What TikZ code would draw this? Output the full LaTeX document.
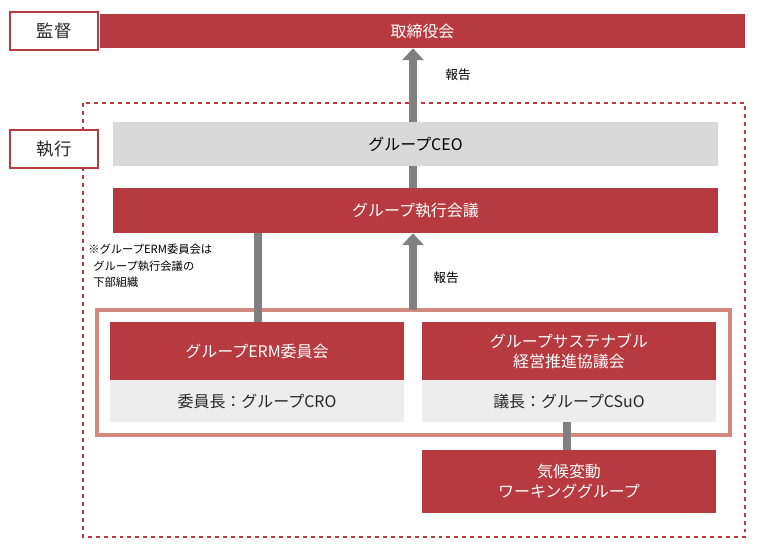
\documentclass[tikz,border=0pt]{standalone}
\usepackage{fontspec}
\setmainfont{Noto Sans CJK JP}
\usetikzlibrary{arrows.meta}
\definecolor{jred}{HTML}{B73A40}
\definecolor{jgray}{HTML}{D9D9D9}
\definecolor{jlight}{HTML}{EDEDED}
\definecolor{jpink}{HTML}{D4897E}
\definecolor{jarrow}{HTML}{808080}
\tikzset{
  redbar/.style={fill=jred, text=white, inner sep=0pt},
  tagbox/.style={draw=jred, thick, fill=white, text=black!85, inner sep=0pt, font=\fontsize{13}{15}\selectfont},
  subbox/.style={fill=jlight, text=black!85, inner sep=0pt},
  uparrow/.style={draw=jarrow, line width=6pt, -{Triangle[length=9pt,width=16pt]}},
  link/.style={draw=jarrow, line width=6pt},
}
\begin{document}
\begin{tikzpicture}[x=0.02645cm, y=-0.02645cm, font=\fontsize{12}{15}\selectfont]
  \useasboundingbox (0,0) rectangle (757,546);

  % upper part
  \node[tagbox, minimum width=88*0.02645cm, minimum height=38*0.02645cm] (sup) at (54,31) {監督};
  \node[redbar, minimum width=645*0.02645cm, minimum height=34*0.02645cm] (board) at (422.5,31) {取締役会};

  \draw[jred, dashed, thick] (83,103) rectangle (745,537);
  \node[tagbox, minimum width=88*0.02645cm, minimum height=38*0.02645cm] (exe) at (54,149) {執行};

  \node[fill=jgray, inner sep=0pt, minimum width=605*0.02645cm, minimum height=44*0.02645cm] (ceo) at (415.5,144) {グループCEO};
  \node[redbar, minimum width=605*0.02645cm, minimum height=45*0.02645cm] (mgmt) at (415.5,210.5) {グループ執行会議};

  \draw[uparrow] (ceo.north -| 413,0) -- (board.south -| 413,0);
  \node[font=\fontsize{9.5}{11}\selectfont] (rep1) at (458,75) {報告};
  \draw[link] (ceo.south -| 413,0) -- (mgmt.north -| 413,0);

  % committees
  \draw[jpink, line width=2.5pt] (97,310) rectangle (730,435);
  \node[redbar, minimum width=294*0.02645cm, minimum height=58*0.02645cm] (erm) at (257,351) {グループERM委員会};
  \node[subbox, minimum width=294*0.02645cm, minimum height=42*0.02645cm] (cro) at (257,401) {委員長：グループCRO};
  \node[redbar, minimum width=294*0.02645cm, minimum height=58*0.02645cm, align=center] (sus) at (569,351) {グループサステナブル\\経営推進協議会};
  \node[subbox, minimum width=294*0.02645cm, minimum height=42*0.02645cm] (csuo) at (569,401) {議長：グループCSuO};
  \node[redbar, minimum width=294*0.02645cm, minimum height=63*0.02645cm, align=center] (wg) at (569,481.5) {気候変動\\ワーキンググループ};

  \draw[link] (erm.north -| 258,0) -- (mgmt.south -| 258,0);
  \draw[uparrow] (413,310) -- (mgmt.south -| 413,0);
  \node[font=\fontsize{9.5}{11}\selectfont] (rep2) at (446,278) {報告};
  \draw[link] (csuo.south -| 567,0) -- (wg.north -| 567,0);

  \node[anchor=north west, align=left, inner sep=0pt, font=\fontsize{8.5}{12.5}\selectfont] (note) at (88,244)
    {※グループERM委員会は\\\ \ グループ執行会議の\\\ \ 下部組織};
\end{tikzpicture}
\end{document}
